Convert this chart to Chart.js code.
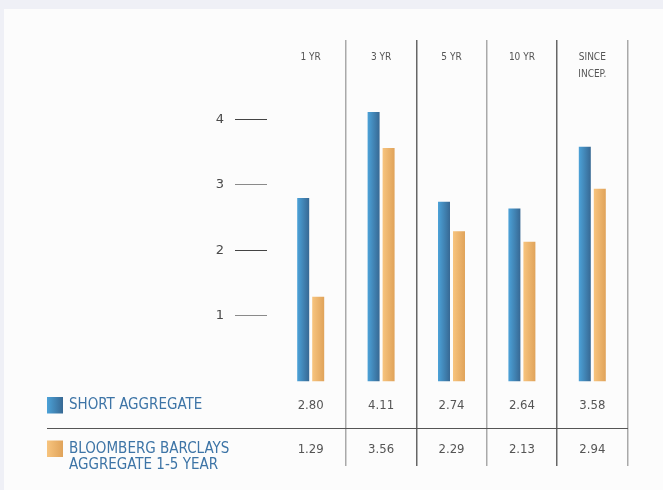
<!DOCTYPE html>
<html>
<head>
<meta charset="utf-8">
<script src="https://cdn.jsdelivr.net/npm/chart.js@4.4.1/dist/chart.umd.min.js"></script>
<style>
  html, body { margin: 0; padding: 0; background: #eff0f6; }
  #wrap { position: relative; width: 663px; height: 490px; overflow: hidden; }
  #panel { position: absolute; left: 4px; top: 9px; right: 0; bottom: 0; background: #fcfcfc; }
  #box { position: absolute; left: 0; top: 0; width: 663px; height: 490px; }
</style>
</head>
<body>
<div id="wrap">
  <div id="panel"></div>
  <div id="box"><canvas id="perfChart"></canvas></div>
</div>
<script>
// data
const periods = [['1 YR', ''], ['3 YR', ''], ['5 YR', ''], ['10 YR', ''], ['SINCE', 'INCEP.']];
const shortAgg = [2.80, 4.11, 2.74, 2.64, 3.58];
const bbAgg = [1.29, 3.56, 2.29, 2.13, 2.94];
const seriesNames = [['SHORT AGGREGATE'], ['BLOOMBERG BARCLAYS', 'AGGREGATE 1-5 YEAR']];
const yTicks = [1, 2, 3, 4];

const FONT = "'DejaVu Sans Condensed', 'DejaVu Sans', sans-serif";
const blueGrad = ['#4ca2d8', '#376893'];
const orangeGrad = ['#f7c47e', '#e0a35a'];
const grads = [blueGrad, orangeGrad];

function hGrad(c, x0, x1, cols) {
  const g = c.createLinearGradient(x0, 0, x1, 0);
  g.addColorStop(0, cols[0]);
  g.addColorStop(1, cols[1]);
  return g;
}

// shade every bar left->right like the print version
const barShade = {
  id: 'barShade',
  beforeDatasetsDraw(chart) {
    chart.data.datasets.forEach((ds, i) => {
      chart.getDatasetMeta(i).data.forEach(el => {
        el.options.backgroundColor = hGrad(chart.ctx, el.x - el.width / 2, el.x + el.width / 2, grads[i]);
      });
    });
  }
};

// legend keys + row divider of the table under the bars
const tableBits = {
  id: 'tableBits',
  afterDraw(chart) {
    const c = chart.ctx;
    const area = chart.chartArea;
    const rows = [405, 448.5];
    c.save();
    c.strokeStyle = '#555';
    c.lineWidth = 1.2;
    c.beginPath();
    c.moveTo(47, 428.5);
    c.lineTo(area.right + 0.5, 428.5);
    c.stroke();
    seriesNames.forEach((name, i) => {
      c.fillStyle = hGrad(c, 47, 63, grads[i]);
      c.fillRect(47, rows[i] - 8, 16, 16.5);
      c.fillStyle = '#3d74a6';
      c.font = '15px ' + FONT;
      c.textBaseline = 'middle';
      c.textAlign = 'left';
      name.forEach((line, j) => c.fillText(line, 69, rows[i] + 0.5 + j * 16.5));
    });
    c.restore();
  }
};

const ctx = document.getElementById('perfChart').getContext('2d');
const myChart = new Chart(ctx, {
  type: 'bar',
  data: {
    labels: periods,
    datasets: [
      { label: 'SHORT AGGREGATE', data: shortAgg, backgroundColor: () => blueGrad[0] },
      { label: 'BLOOMBERG BARCLAYS AGGREGATE 1-5 YEAR', data: bbAgg, backgroundColor: () => orangeGrad[0] }
    ]
  },
  plugins: [barShade, tableBits],
  options: {
    responsive: true,
    maintainAspectRatio: false,
    animation: false,
    categoryPercentage: 0.426,
    barPercentage: 0.8,
    layout: { padding: { left: 190, right: 35.5, top: 40, bottom: 24 } },
    plugins: {
      legend: { display: false },
      tooltip: { enabled: false }
    },
    scales: {
      x: {
        position: 'top',
        offset: true,
        afterFit: s => { s.height = 55 },
        border: { display: false },
        grid: {
          offset: true,
          drawTicks: true,
          tickLength: 55,
          lineWidth: 1.5,
          color: c => c.index === 0 ? 'rgba(0,0,0,0)' : (c.index === undefined || c.index % 2 ? '#a9a9a9' : '#666')
        },
        ticks: {
          autoSkip: false,
          maxRotation: 0,
          padding: -42.5,
          color: '#555',
          font: { family: FONT, size: 10, lineHeight: 17 / 10 }
        }
      },
      // table values under the bars, one column per period
      x2: {
        type: 'category',
        position: 'bottom',
        offset: true,
        afterFit: s => { s.height = 0 },
        border: { display: false },
        grid: { display: false, drawTicks: false },
        ticks: {
          autoSkip: false,
          maxRotation: 0,
          mirror: true,
          padding: 49,
          color: '#555',
          font: { family: FONT, size: 13, lineHeight: 22 / 13 },
          callback: (v, i) => [shortAgg[i].toFixed(2), '', bbAgg[i].toFixed(2)]
        }
      },
      y: {
        min: -1.293,
        max: 4.371,
        afterFit: s => { s.width = 85.5 },
        afterBuildTicks: s => { s.ticks = yTicks.map(v => ({ value: v })) },
        border: { display: false },
        grid: {
          drawOnChartArea: false,
          tickLength: 40.5,
          tickBorderDash: [32, 20],
          color: c => (c.tick && c.tick.value % 2) ? '#8a8a8a' : '#444',
          lineWidth: 1
        },
        ticks: {
          padding: 11,
          color: '#4a4a4a',
          font: { family: "'DejaVu Sans', sans-serif", size: 13 }
        }
      }
    }
  }
});
</script>
</body>
</html>
